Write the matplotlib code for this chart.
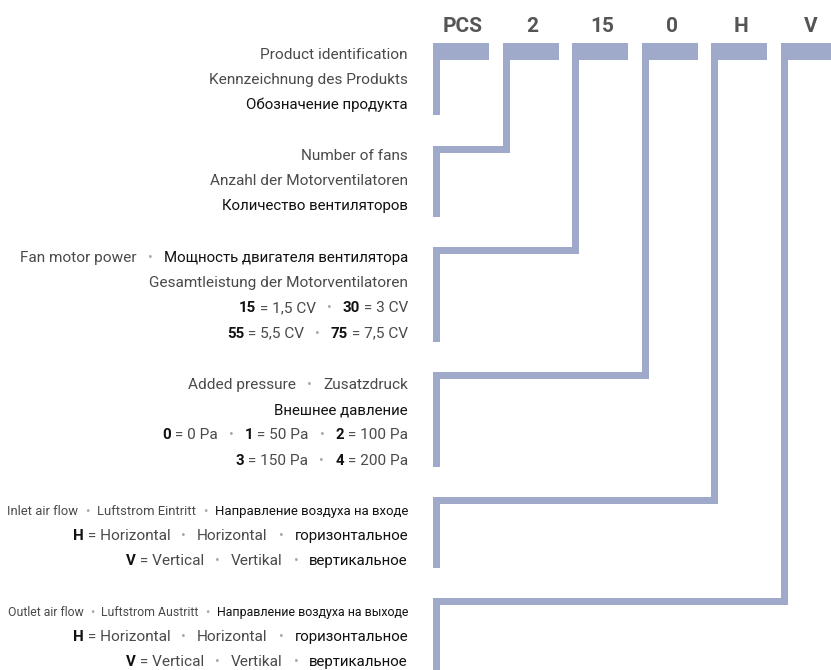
import matplotlib
matplotlib.use("Agg")
import matplotlib.pyplot as plt
from matplotlib.patches import Rectangle

# code letters on top of the diagram
codes = ["PCS", "2", "15", "0", "H", "V"]

# text blocks, one per code; each line is a list of (text, style) segments
# styles: g = grey, k = black (russian), b = bold number, d = bullet
blocks = [
    [
        [("Product identification", "g")],
        [("Kennzeichnung des Produkts", "g")],
        [("Обозначение продукта", "k")],
    ],
    [
        [("Number of fans", "g")],
        [("Anzahl der Motorventilatoren", "g")],
        [("Количество вентиляторов", "k")],
    ],
    [
        [("Fan motor power", "g"), ("•", "d"), ("Мощность двигателя вентилятора", "k")],
        [("Gesamtleistung der Motorventilatoren", "g")],
        [("15", "b"), (" = 1,5 CV", "g"), ("•", "d"), ("30", "b"), (" = 3 CV", "g")],
        [("55", "b"), (" = 5,5 CV", "g"), ("•", "d"), ("75", "b"), (" = 7,5 CV", "g")],
    ],
    [
        [("Added pressure", "g"), ("•", "d"), ("Zusatzdruck", "g")],
        [("Внешнее давление", "k")],
        [("0", "b"), (" = 0 Pa", "g"), ("•", "d"), ("1", "b"), (" = 50 Pa", "g"),
         ("•", "d"), ("2", "b"), (" = 100 Pa", "g")],
        [("3", "b"), (" = 150 Pa", "g"), ("•", "d"), ("4", "b"), (" = 200 Pa", "g")],
    ],
    [
        [("Inlet air flow", "gs"), ("•", "ds"), ("Luftstrom Eintritt", "gs"), ("•", "ds"),
         ("Направление воздуха на входе", "ks")],
        [("H", "b"), (" = Horizontal", "g"), ("•", "d"), ("Horizontal", "g"), ("•", "d"),
         ("горизонтальное", "k")],
        [("V", "b"), (" = Vertical", "g"), ("•", "d"), ("Vertikal", "g"), ("•", "d"),
         ("вертикальное", "k")],
    ],
    [
        [("Outlet air flow", "gs"), ("•", "ds"), ("Luftstrom Austritt", "gs"), ("•", "ds"),
         ("Направление воздуха на выходе", "ks")],
        [("H", "b"), (" = Horizontal", "g"), ("•", "d"), ("Horizontal", "g"), ("•", "d"),
         ("горизонтальное", "k")],
        [("V", "b"), (" = Vertical", "g"), ("•", "d"), ("Vertikal", "g"), ("•", "d"),
         ("вертикальное", "k")],
    ],
]

FONT = ["Roboto", "DejaVu Sans"]
LINE_C = "#9fa9c9"
W, H = 831, 670

fig = plt.figure(figsize=(W / 100, H / 100), dpi=100)
ax = fig.add_axes([0, 0, 1, 1])
ax.set_xlim(0, W)
ax.set_ylim(H, 0)
ax.axis("off")

# lane geometry (pixels)
lane_x0, lane_dx = 433, 69.6
bar_w, bar_top, bar_h, lw = 56, 43, 17, 7
text_right = 408
small_left = 7  # the long air-flow lines start here
first_base = [59, 160, 262, 389, 515, 616]
line_gap = 25.2
block_ends = [115, 217, 342, 467, 568, H + 5]
join_y = [None, 146, 247, 372, 497, 598]

for i, code in enumerate(codes):
    x = lane_x0 + i * lane_dx
    w = bar_w + 10 if i == len(codes) - 1 else bar_w
    ax.add_patch(Rectangle((x, bar_top), w, bar_h, color=LINE_C, lw=0))
    ax.text(x + bar_w / 2 + 2, 27, code, ha="center", va="center", fontsize=15,
            fontweight="bold", color="#555555", family=FONT)
    if join_y[i] is None:
        ax.add_patch(Rectangle((x, bar_top), lw, block_ends[i] - bar_top, color=LINE_C, lw=0))
    else:
        jy = join_y[i]
        ax.add_patch(Rectangle((x, bar_top), lw, jy + lw - bar_top, color=LINE_C, lw=0))
        ax.add_patch(Rectangle((lane_x0, jy), x + lw - lane_x0, lw, color=LINE_C, lw=0))
        ax.add_patch(Rectangle((lane_x0, jy), lw, block_ends[i] - jy, color=LINE_C, lw=0))

styles = {
    "g": dict(color="#4a4a4a", fontsize=11.1),
    "k": dict(color="#111111", fontsize=10.8),
    "b": dict(color="#111111", fontsize=10.8, fontweight="bold"),
    "d": dict(color="#a8a8a8", fontsize=10),
    "gs": dict(color="#4a4a4a", fontsize=9.0),
    "ks": dict(color="#111111", fontsize=9.1),
    "ds": dict(color="#a8a8a8", fontsize=9),
}
bullet_pad = {"d": 11, "ds": 7}

fig.canvas.draw()
renderer = fig.canvas.get_renderer()


def draw_line(segs, y, scale=1.0):
    x = text_right
    arts = []
    for txt, st in reversed(segs):
        kw = dict(styles[st])
        kw["fontsize"] *= scale
        pad = bullet_pad.get(st, 0) * scale
        x -= pad
        t = ax.text(x, y, txt, ha="right", va="baseline", family=FONT, **kw)
        x -= t.get_window_extent(renderer).width + pad
        arts.append(t)
    return x, arts


for bi, block in enumerate(blocks):
    for li, segs in enumerate(block):
        y = first_base[bi] + li * line_gap
        left, arts = draw_line(segs, y)
        if any(st.endswith("s") for _, st in segs):
            # squeeze the long line so it starts at the same left edge
            for a in arts:
                a.remove()
            draw_line(segs, y, (text_right - small_left) / (text_right - left))

fig.savefig("out.png", dpi=100)
